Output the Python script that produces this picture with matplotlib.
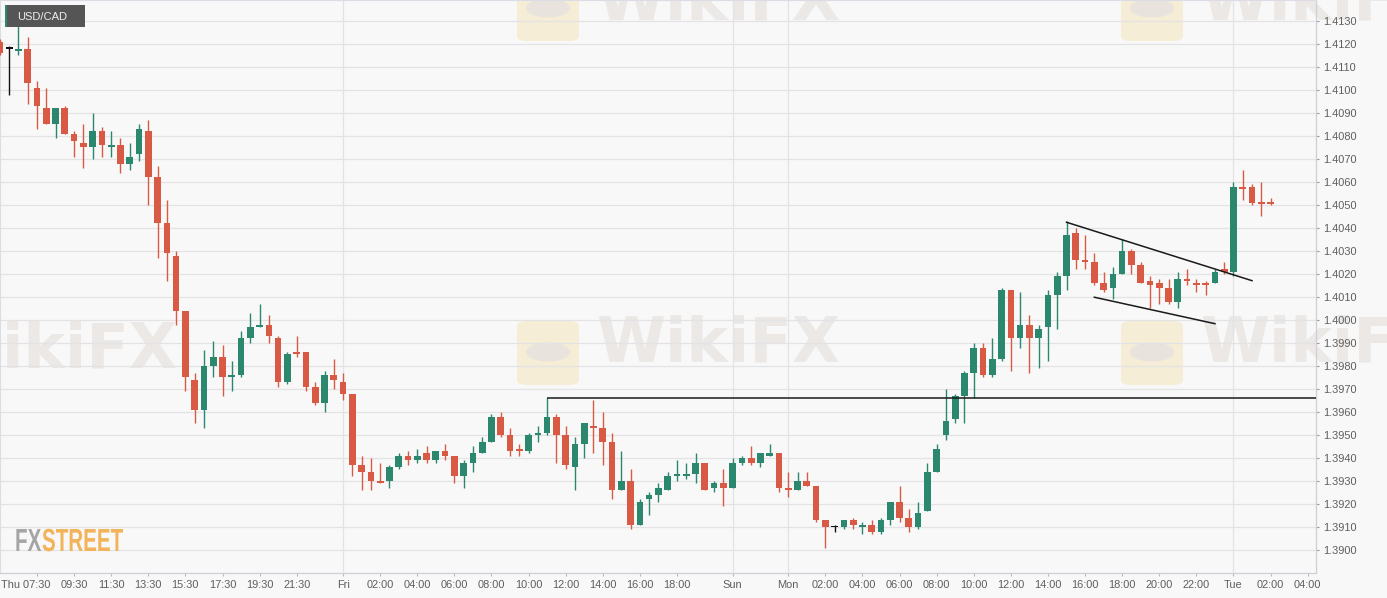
import numpy as np
import pandas as pd
import matplotlib
matplotlib.use("Agg")
import matplotlib.pyplot as plt
from matplotlib.patches import Rectangle, FancyBboxPatch, Circle, PathPatch
from matplotlib.textpath import TextPath
from matplotlib.font_manager import FontProperties
from matplotlib.transforms import Affine2D

# ---------------- data ----------------
opens = [1.4121, 1.4118, 1.4117, 1.4118, 1.4101, 1.4092, 1.4085, 1.4092, 1.4081, 1.4077,
         1.4075, 1.4082, 1.4075, 1.4076, 1.4068, 1.4072, 1.4082, 1.4062, 1.4042, 1.4028,
         1.4004, 1.3974, 1.3961, 1.3980, 1.3984, 1.3975, 1.3976, 1.3992, 1.3997, 1.3998,
         1.3992, 1.3973, 1.3986, 1.3986, 1.3971, 1.3964, 1.3976, 1.3973, 1.3968, 1.3937,
         1.3934, 1.3930, 1.3930, 1.3936, 1.3941, 1.3939, 1.3942, 1.3939, 1.3943, 1.3941,
         1.3932, 1.3938, 1.3942, 1.3947, 1.3958, 1.3950, 1.3944, 1.3943, 1.3950, 1.3951,
         1.3958, 1.3950, 1.3936, 1.3946, 1.3954, 1.3953, 1.3947, 1.3926, 1.3930, 1.3911,
         1.3922, 1.3924, 1.3926, 1.3932, 1.3932, 1.3933, 1.3938, 1.3927, 1.3929, 1.3927,
         1.3938, 1.3940, 1.3938, 1.3941, 1.3942, 1.3927, 1.3926, 1.3930, 1.3928, 1.3913,
         1.3910, 1.3910, 1.3913, 1.3910, 1.3911, 1.3908, 1.3913, 1.3921, 1.3914, 1.3910,
         1.3917, 1.3934, 1.3950, 1.3957, 1.3967, 1.3977, 1.3988, 1.3976, 1.3983, 1.4013,
         1.3992, 1.3998, 1.3992, 1.3997, 1.4011, 1.4019, 1.4038, 1.4026, 1.4025, 1.4016,
         1.4014, 1.4020, 1.4030, 1.4024, 1.4017, 1.4016, 1.4014, 1.4008, 1.4018, 1.4016,
         1.4016, 1.4016, 1.4022, 1.4021, 1.4058, 1.4058, 1.40515, 1.40515]
highs = [1.4122, 1.4119, 1.4128, 1.4123, 1.4104, 1.4101, 1.4092, 1.4093, 1.4082, 1.4085,
         1.4090, 1.4084, 1.4082, 1.4079, 1.4077, 1.4085, 1.4087, 1.4067, 1.4052, 1.4030,
         1.4004, 1.3977, 1.3987, 1.3991, 1.3989, 1.3982, 1.3995, 1.4003, 1.4007, 1.4002,
         1.3993, 1.3986, 1.3993, 1.3986, 1.3973, 1.3978, 1.3983, 1.3977, 1.3968, 1.3941,
         1.3940, 1.3938, 1.3937, 1.3942, 1.3943, 1.3944, 1.3945, 1.3943, 1.3946, 1.3941,
         1.3939, 1.3945, 1.3949, 1.3959, 1.3960, 1.3953, 1.3946, 1.3951, 1.3954, 1.3966,
         1.3959, 1.3954, 1.3949, 1.3955, 1.3965, 1.3960, 1.3951, 1.3943, 1.3935, 1.3922,
         1.3925, 1.3929, 1.3934, 1.3939, 1.3938, 1.3942, 1.3938, 1.3930, 1.3935, 1.3940,
         1.3941, 1.3945, 1.3942, 1.3946, 1.3942, 1.3934, 1.3934, 1.3934, 1.3928, 1.3913,
         1.3911, 1.3913, 1.3914, 1.3912, 1.3913, 1.3914, 1.3921, 1.3928, 1.3918, 1.3921,
         1.3938, 1.3946, 1.3970, 1.3968, 1.3978, 1.3990, 1.3990, 1.3992, 1.4014, 1.4013,
         1.4012, 1.4002, 1.3998, 1.4013, 1.4021, 1.4043, 1.4040, 1.4037, 1.4029, 1.4021,
         1.4023, 1.4035, 1.4031, 1.4025, 1.4019, 1.4018, 1.4018, 1.4021, 1.4022, 1.4018,
         1.4017, 1.4022, 1.4025, 1.4060, 1.4065, 1.4059, 1.4060, 1.4053]
lows = [1.4115, 1.4098, 1.4115, 1.4094, 1.4083, 1.4085, 1.4079, 1.4081, 1.4071, 1.4066,
        1.4070, 1.4071, 1.4071, 1.4064, 1.4065, 1.4069, 1.4050, 1.4027, 1.4017, 1.3998,
        1.3969, 1.3955, 1.3953, 1.3975, 1.3967, 1.3969, 1.3975, 1.3990, 1.3997, 1.3990,
        1.3971, 1.3972, 1.3984, 1.3969, 1.3963, 1.3960, 1.3970, 1.3965, 1.3932, 1.3926,
        1.3926, 1.3929, 1.3927, 1.3935, 1.3937, 1.3938, 1.3938, 1.3938, 1.3939, 1.3929,
        1.3927, 1.3934, 1.3942, 1.3947, 1.3949, 1.3941, 1.3941, 1.3942, 1.3947, 1.3950,
        1.3938, 1.3935, 1.3926, 1.3940, 1.3942, 1.3937, 1.3922, 1.3926, 1.3909, 1.3911,
        1.3915, 1.3921, 1.3926, 1.3930, 1.3931, 1.3929, 1.3926, 1.3925, 1.3919, 1.3927,
        1.3937, 1.3937, 1.3936, 1.3941, 1.3925, 1.3923, 1.3926, 1.3928, 1.3912, 1.3901,
        1.3908, 1.3909, 1.3909, 1.3907, 1.3907, 1.3907, 1.3911, 1.3912, 1.3908, 1.3909,
        1.3917, 1.3934, 1.3948, 1.3955, 1.3955, 1.3966, 1.3975, 1.3975, 1.3982, 1.3978,
        1.3988, 1.3977, 1.3979, 1.3982, 1.3996, 1.4013, 1.4022, 1.4022, 1.4015, 1.4012,
        1.4009, 1.4020, 1.4020, 1.4016, 1.4005, 1.4007, 1.4007, 1.4005, 1.4015, 1.4012,
        1.4011, 1.4016, 1.4020, 1.4019, 1.4052, 1.4050, 1.4045, 1.4050]
closes = [1.4116, 1.4118, 1.4118, 1.4103, 1.4093, 1.4085, 1.4092, 1.4081, 1.4078, 1.4075,
          1.4082, 1.4076, 1.4076, 1.4068, 1.4071, 1.4083, 1.4062, 1.4042, 1.4029, 1.4004,
          1.3975, 1.3961, 1.3980, 1.3984, 1.3975, 1.3976, 1.3992, 1.3997, 1.3998, 1.3993,
          1.3973, 1.3985, 1.3985, 1.3971, 1.3964, 1.3976, 1.3974, 1.3968, 1.3937, 1.3934,
          1.3930, 1.3929, 1.3936, 1.3941, 1.3939, 1.3941, 1.3939, 1.3943, 1.3941, 1.3932,
          1.3938, 1.3942, 1.3947, 1.3958, 1.3950, 1.3943, 1.3943, 1.3950, 1.3951, 1.3958,
          1.3950, 1.3937, 1.3946, 1.3955, 1.3953, 1.3947, 1.3926, 1.3930, 1.3911, 1.3921,
          1.3924, 1.3927, 1.3932, 1.3933, 1.3933, 1.3938, 1.3926, 1.3929, 1.3927, 1.3938,
          1.3940, 1.3938, 1.3942, 1.3942, 1.3927, 1.3926, 1.3930, 1.3928, 1.3913, 1.3910,
          1.3910, 1.3913, 1.3911, 1.3911, 1.3908, 1.3913, 1.3921, 1.3914, 1.3910, 1.3916,
          1.3934, 1.3944, 1.3956, 1.3967, 1.3977, 1.3988, 1.3976, 1.3983, 1.4013, 1.3992,
          1.3998, 1.3992, 1.3996, 1.4011, 1.4019, 1.4037, 1.4026, 1.4025, 1.4016, 1.4013,
          1.4020, 1.4030, 1.4024, 1.4016, 1.4015, 1.4014, 1.4008, 1.4018, 1.4017, 1.4015,
          1.4015, 1.4021, 1.4021, 1.4058, 1.4057, 1.4051, 1.40505, 1.40505]

# candle timestamps (30-minute bars, weekend gap removed)
times = pd.date_range("2024-12-12 05:30", "2024-12-13 20:30", freq="30min").append(
        pd.date_range("2024-12-15 21:00", "2024-12-17 02:00", freq="30min"))

tick_times = ["2024-12-12 07:30", "2024-12-12 09:30", "2024-12-12 11:30", "2024-12-12 13:30",
              "2024-12-12 15:30", "2024-12-12 17:30", "2024-12-12 19:30", "2024-12-12 21:30",
              "2024-12-13 00:00", "2024-12-13 02:00", "2024-12-13 04:00", "2024-12-13 06:00",
              "2024-12-13 08:00", "2024-12-13 10:00", "2024-12-13 12:00", "2024-12-13 14:00",
              "2024-12-13 16:00", "2024-12-13 18:00", "2024-12-15 21:00", "2024-12-16 00:00",
              "2024-12-16 02:00", "2024-12-16 04:00", "2024-12-16 06:00", "2024-12-16 08:00",
              "2024-12-16 10:00", "2024-12-16 12:00", "2024-12-16 14:00", "2024-12-16 16:00",
              "2024-12-16 18:00", "2024-12-16 20:00", "2024-12-16 22:00", "2024-12-17 00:00",
              "2024-12-17 02:00", "2024-12-17 04:00"]
tick_labels = ["Thu 07:30", "09:30", "11:30", "13:30", "15:30", "17:30", "19:30", "21:30",
               "Fri", "02:00", "04:00", "06:00", "08:00", "10:00", "12:00", "14:00", "16:00",
               "18:00", "Sun", "Mon", "02:00", "04:00", "06:00", "08:00", "10:00", "12:00",
               "14:00", "16:00", "18:00", "20:00", "22:00", "Tue", "02:00", "04:00"]
day_starts = ["Fri", "Sun", "Mon", "Tue"]

y_ticks = [round(1.3900 + 0.001 * k, 4) for k in range(24)]

# drawn trend lines: (bar timestamp, price)
resistance_start = ("2024-12-13 11:00", 1.3966)
wedge_upper = [("2024-12-16 15:00", 1.40425), ("2024-12-17 01:00", 1.40171)]
wedge_lower = [("2024-12-16 16:30", 1.40099), ("2024-12-16 23:00", 1.39984)]

# ---------------- helpers ----------------
def pos_of(t):
    t = pd.Timestamp(t)
    if t in times:
        return float(times.get_loc(t))
    return (len(times) - 1) + (t - times[-1]) / pd.Timedelta("30min")

# ---------------- figure ----------------
W, H = 1387, 598
BG = "#f8f8f8"
RED = "#d95a44"
GREEN = "#2b876d"
TXT = "#5e5e5e"
GRID = "#e3e3e6"

plt.rcParams["font.family"] = ["Liberation Sans", "DejaVu Sans"]
fig = plt.figure(figsize=(W / 100, H / 100), dpi=100, facecolor=BG)
ax = fig.add_axes([0.0, 1 - 572.7 / H, 1316 / W, 572.7 / H])
ax.set_zorder(2)
ax.patch.set_alpha(0)

o = np.array(opens); h = np.array(highs); l = np.array(lows); c = np.array(closes)
x = np.arange(len(o))
cols = np.where(c > o, GREEN, np.where(c < o, RED, "#111111"))

ax.vlines(x, l, h, colors=cols, linewidth=1.0, zorder=3)
body = np.maximum(np.abs(c - o), 0.00005)
ax.bar(x, body, bottom=np.minimum(o, c), width=0.72, color=cols, linewidth=0, zorder=4)

# trend lines
x0 = pos_of(resistance_start[0])
ax.hlines(resistance_start[1], x0, 200, colors="#1a1a1a", linewidth=1.1, zorder=5)
ax.plot([pos_of(t) for t, _ in wedge_upper], [p for _, p in wedge_upper],
        color="#1a1a1a", linewidth=1.1, zorder=5)
ax.plot([pos_of(t) for t, _ in wedge_lower], [p for _, p in wedge_lower],
        color="#1a1a1a", linewidth=1.1, zorder=5)

# axes limits
ax.set_xlim(0.01, 141.9)
ax.set_ylim(1.389013, 1.413913)

# grid
for yv in y_ticks:
    ax.axhline(yv, color=GRID, linewidth=0.9, zorder=0)
for t, lab in zip(tick_times, tick_labels):
    if lab in day_starts:
        ax.axvline(pos_of(t), color=GRID, linewidth=0.9, zorder=0)

# ticks
xt = [pos_of(t) for t in tick_times]
ax.set_xticks(xt)
ax.set_xticklabels([""] + tick_labels[1:])
ax.annotate(tick_labels[0], xy=(0, 0), xycoords="axes fraction", xytext=(0.5, -5.6),
            textcoords="offset points", ha="left", va="top", fontsize=7.9, color=TXT)
ax.yaxis.tick_right()
ax.set_yticks(y_ticks)
ax.set_yticklabels([f"{v:.4f}" for v in y_ticks])
ax.tick_params(axis="x", length=2.2, width=0.8, color="#b8b8c0", pad=3.3,
               labelsize=7.9, labelcolor=TXT)
ax.tick_params(axis="y", length=2.4, width=0.8, color="#9a9aa0", pad=3.0,
               labelsize=7.9, labelcolor=TXT)

for side in ["top", "left"]:
    ax.spines[side].set_color("#dcdce4")
    ax.spines[side].set_linewidth(0.8)
for side in ["right", "bottom"]:
    ax.spines[side].set_color("#cfcfd8")
    ax.spines[side].set_linewidth(0.9)

# ---------------- watermarks (behind the chart) ----------------
def fx(px):
    return px / W

def fy(py):
    return 1 - py / H

for (lx, ly) in [(548, 352), (1152, 352), (548, 8), (1152, 8)]:
    fig.patches.append(FancyBboxPatch((fx(lx - 31), fy(ly + 33)), fx(62), 64 / H,
                                      boxstyle="round,pad=0,rounding_size=0.008",
                                      transform=fig.transFigure, facecolor="#f5edd6",
                                      edgecolor="none", zorder=0.5))
    fig.patches.append(Circle((fx(lx), fy(ly)), 22 / W, transform=fig.transFigure,
                              facecolor="#e8e3dc", edgecolor="none", zorder=0.6))
for (tx, ty) in [(55, 350), (718, 345), (1322, 345), (718, 2), (1322, 2)]:
    fig.text(fx(tx), fy(ty), "WikiFX", fontsize=45, fontweight="bold", color="#ebe8e5",
             ha="center", va="center", family="DejaVu Sans", zorder=0.7)

# FXSTREET logo as condensed text outlines (pixel space)
fp = FontProperties(family="Liberation Sans", weight="bold")
p_fx = TextPath((0, 0), "FX", size=100, prop=fp)
p_st = TextPath((0, 0), "STREET", size=100, prop=fp)
w_fx = p_fx.get_extents().x1
w_st = p_st.get_extents().x1
gap = 4
sx = 108.0 / (w_fx + gap + w_st)
sy = 23.0 / 72.0
base = Affine2D().scale(sx, sy)
fig.patches.append(PathPatch(p_fx, transform=base + Affine2D().translate(15, H - 551),
                             facecolor="#a5a5a5", edgecolor="none", zorder=3))
fig.patches.append(PathPatch(p_st, transform=base + Affine2D().translate(15 + (w_fx + gap) * sx, H - 551),
                             facecolor="#f2b35a", edgecolor="none", zorder=3))

# symbol label
fig.patches.append(Rectangle((fx(5), fy(27)), fx(80), 22 / H, transform=fig.transFigure,
                             facecolor="#555555", edgecolor="none", zorder=10))
fig.patches.append(Rectangle((fx(5), fy(27)), fx(2.4), 22 / H, transform=fig.transFigure,
                             facecolor=GREEN, edgecolor="none", zorder=11))
fig.text(fx(17), fy(16.5), "USD/CAD", fontsize=8, color="#eeeeee", ha="left",
         va="center", zorder=12)

fig.savefig("out.png", dpi=100, facecolor=BG)
